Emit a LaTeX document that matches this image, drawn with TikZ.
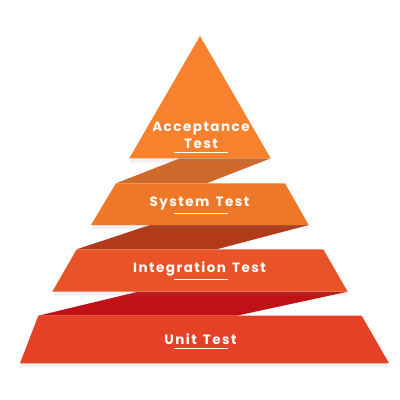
\documentclass[tikz,border=0pt]{standalone}
\usepackage{fontspec}
\newfontfamily\lblfont[LetterSpace=11,WordSpace=1.4]{Poppins}
\usetikzlibrary{shadows}
\definecolor{cTri}{HTML}{F7812C}
\definecolor{cSys}{HTML}{EE7728}
\definecolor{cInt}{HTML}{E85427}
\definecolor{cUnit}{HTML}{E54127}
\definecolor{cK1}{HTML}{D06A2C}
\definecolor{cK2}{HTML}{B03A1A}
\definecolor{cK3}{HTML}{C01116}
\tikzset{
  band/.style={draw=none, drop shadow={opacity=0.12, shadow xshift=0pt, shadow yshift=-4pt}},
  lbl/.style={text=white, font=\lblfont\bfseries\fontsize{13.5}{15}\selectfont, align=center, inner sep=0pt},
  uline/.style={white, line width=1pt}
}
\begin{document}
\begin{tikzpicture}[x=1pt, y=-1pt]
\useasboundingbox (0,0) rectangle (400,400);
% connectors (folds)
\fill[cK1] (180,158.3) -- (270.7,158.3) -- (206.7,183.3) -- (116,183.3) -- cycle;
\fill[cK2] (150,225) -- (308.7,225) -- (216.7,249.3) -- (76.7,249.3) -- cycle;
\fill[cK3] (138,291.7) -- (347.7,291.7) -- (236.7,315.7) -- (38.3,315.7) -- cycle;
% bands
\fill[band, cTri] (200,36) -- (270.7,158.3) -- (129.3,158.3) -- cycle;
\fill[band, cSys] (116,183.3) -- (285,183.3) -- (308.7,225) -- (91,225) -- cycle;
\fill[band, cInt] (76.7,249.3) -- (323.3,249.3) -- (347.7,291.7) -- (52.3,291.7) -- cycle;
\fill[band, cUnit] (38.3,315.7) -- (361.7,315.7) -- (389,363.3) -- (20,363.3) -- cycle;
% labels
\node[lbl] (acc) at (201,128.5) {Acceptance};
\node[lbl] (acct) at (201,144) {Test};
\node[lbl] (sys) at (199.5,203) {System Test};
\node[lbl] (int) at (199.5,269) {Integration Test};
\node[lbl] (unit) at (200.5,339) {Unit Test};
% underlines
\coordinate (u1a) at (174.3,152.7); \coordinate (u1b) at (228.3,152.7);
\coordinate (u2a) at (174,213.3); \coordinate (u2b) at (228,213.3);
\coordinate (u3a) at (174,279.3); \coordinate (u3b) at (228,279.3);
\coordinate (u4a) at (174,348.3); \coordinate (u4b) at (228,348.3);
\draw[uline] (u1a) -- (u1b);
\draw[uline] (u2a) -- (u2b);
\draw[uline] (u3a) -- (u3b);
\draw[uline] (u4a) -- (u4b);
\end{tikzpicture}
\end{document}
